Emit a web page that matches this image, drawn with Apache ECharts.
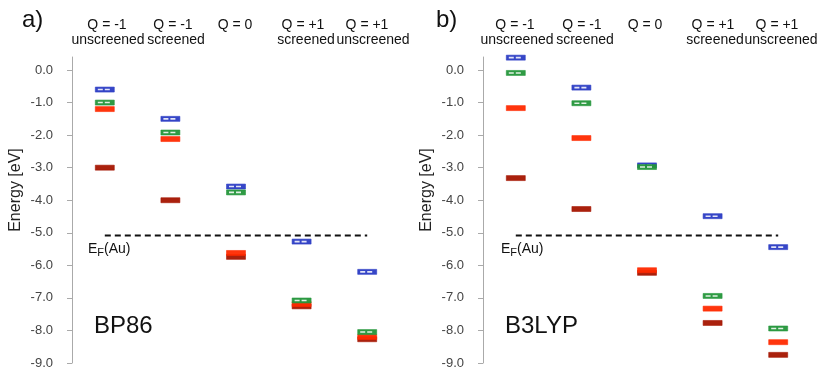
<!DOCTYPE html>
<html>
<head>
<meta charset="utf-8">
<script src="https://cdn.jsdelivr.net/npm/echarts@6/dist/echarts.min.js"></script>
<style>
  html, body { margin: 0; padding: 0; background: #fff; }
  #chart { width: 830px; height: 373px; }
</style>
</head>
<body>
<div id="chart"></div>
<script>
// five charge states per panel
let columns = ['Q = -1\nunscreened', 'Q = -1\nscreened', 'Q = 0', 'Q = +1\nscreened', 'Q = +1\nunscreened']
let yTicks = [-9, -8, -7, -6, -5, -4, -3, -2, -1, 0]
let fermi = -5.08

// BP86 levels (eV)
let bpBlue = [-0.6, -1.5, -3.58, -5.27, -6.2]
let bpGreen = [-1.0, -1.92, -3.76, -7.08, -8.05]
let bpRed = [-1.2, -2.12, -5.62, -7.19, -8.2]
let bpDark = [-3.0, -4.0, -5.74, -7.26, -8.27]

// B3LYP levels (eV)
let b3Blue = [0.38, -0.54, -2.93, -4.49, -5.44]
let b3Green = [-0.09, -1.02, -2.98, -6.94, -7.94]
let b3Red = [-1.17, -2.09, -6.15, -7.33, -8.36]
let b3Dark = [-3.32, -4.27, -6.23, -7.77, -8.75]

let chart = echarts.init(document.getElementById('chart'))

function levelSeries (idx, vals, color, dashed) {
  return {
    type: 'custom',
    xAxisIndex: idx,
    yAxisIndex: idx,
    encode: { x: 0, y: 1 },
    data: vals.map((v, i) => [i, v]),
    renderItem: function (params, api) {
      let p = api.coord([api.value(0), api.value(1)])
      let kids = [{
        type: 'rect',
        shape: { x: p[0] - 9.5, y: p[1] - 2.5, width: 19, height: 5 },
        style: { fill: color, stroke: color, lineWidth: 0.6, opacity: 0.95 }
      }]
      if (dashed) {
        kids.push({
          type: 'line',
          shape: { x1: p[0] - 7, y1: p[1], x2: p[0] + 7, y2: p[1] },
          style: { stroke: '#fff', lineWidth: 1.6, lineDash: [5, 2], opacity: 0.85 }
        })
      }
      return { type: 'group', children: kids }
    }
  }
}

function fermiLine (idx) {
  return {
    type: 'line',
    xAxisIndex: idx,
    yAxisIndex: idx,
    data: [[0, fermi], [4, fermi]],
    symbol: 'none',
    silent: true,
    lineStyle: { color: '#111', width: 2, type: [6, 4] },
    z: 1
  }
}

function yAx (idx) {
  return {
    type: 'value',
    gridIndex: idx,
    min: -9,
    max: 0.4,
    splitLine: { show: false },
    axisLine: { show: true, lineStyle: { color: '#aaa' } },
    axisTick: { show: true, length: 5, customValues: yTicks, lineStyle: { color: '#aaa' } },
    axisLabel: {
      customValues: yTicks,
      margin: 19,
      fontSize: 13,
      color: '#444',
      fontFamily: 'Liberation Sans',
      formatter: v => v.toFixed(1)
    }
  }
}

function xAx (idx) {
  return {
    type: 'category',
    gridIndex: idx,
    data: columns,
    show: false
  }
}

// header line centres (first and second line) per panel
let headTop = [[107, 173, 235, 303, 367], [515, 582, 645, 713, 777]]
let headBottom = [[108, 176, 0, 306, 373], [517, 585, 0, 715, 781]]
let graphics = []
headTop.forEach(function (xs, p) {
  xs.forEach(function (x, i) {
    let parts = columns[i].split('\n')
    graphics.push({
      type: 'text', x: x, y: 18,
      style: { text: parts[0], fontSize: 14, fontFamily: 'Liberation Sans', fill: '#111', align: 'center', verticalAlign: 'top' }
    })
    if (parts[1]) {
      graphics.push({
        type: 'text', x: headBottom[p][i], y: 33,
        style: { text: parts[1], fontSize: 14, fontFamily: 'Liberation Sans', fill: '#111', align: 'center', verticalAlign: 'top' }
      })
    }
  })
})
;[16, 427].forEach(function (x) {
  graphics.push({
    type: 'text', x: x, y: 190, rotation: Math.PI / 2,
    style: { text: 'Energy [eV]', fontSize: 16, fontFamily: 'Liberation Sans', fill: '#222', align: 'center', verticalAlign: 'middle' }
  })
})
graphics.push(
  { type: 'text', x: 22, y: 8, style: { text: 'a)', fontSize: 24, fontFamily: 'Liberation Sans', fill: '#111' } },
  { type: 'text', x: 436, y: 8, style: { text: 'b)', fontSize: 24, fontFamily: 'Liberation Sans', fill: '#111' } },
  { type: 'text', x: 94, y: 314, style: { text: 'BP86', fontSize: 24, fontFamily: 'Liberation Sans', fill: '#111' } },
  { type: 'text', x: 505, y: 314, style: { text: 'B3LYP', fontSize: 24, fontFamily: 'Liberation Sans', fill: '#111' } }
)
;[88, 501].forEach(function (x) {
  graphics.push({
    type: 'text',
    x: x,
    y: 241,
    style: {
      text: '{a|E}{b|F}{a|(Au)}',
      fontFamily: 'Liberation Sans',
      fill: '#111',
      rich: {
        a: { fontSize: 14, fontFamily: 'Liberation Sans', fill: '#111' },
        b: { fontSize: 11, fontFamily: 'Liberation Sans', fill: '#111', padding: [6, 0, 0, 0] }
      }
    }
  })
})

let option = {
  backgroundColor: '#fff',
  animation: false,
  grid: [
    { left: 72, top: 57, width: 328, height: 306 },
    { left: 483, top: 57, width: 328, height: 306 }
  ],
  xAxis: [xAx(0), xAx(1)],
  yAxis: [yAx(0), yAx(1)],
  graphic: graphics,
  series: [
    fermiLine(0),
    levelSeries(0, bpDark, '#a51500', false),
    levelSeries(0, bpRed, '#ff2a00', false),
    levelSeries(0, bpBlue, '#2b3cc4', true),
    levelSeries(0, bpGreen, '#24963a', true),
    fermiLine(1),
    levelSeries(1, b3Dark, '#a51500', false),
    levelSeries(1, b3Red, '#ff2a00', false),
    levelSeries(1, b3Blue, '#2b3cc4', true),
    levelSeries(1, b3Green, '#24963a', true)
  ]
}
chart.setOption(option)
</script>
</body>
</html>
